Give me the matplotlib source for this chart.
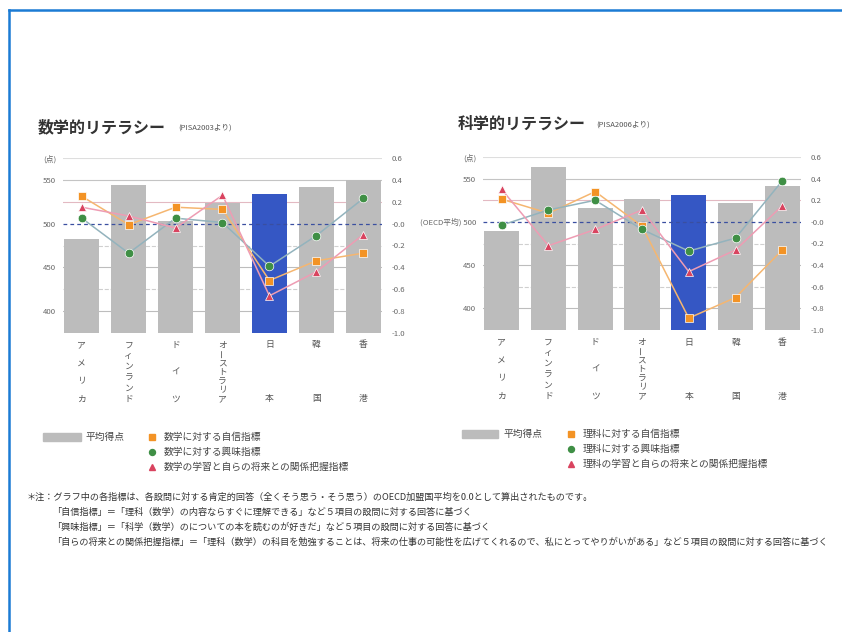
import matplotlib
matplotlib.use("Agg")
import matplotlib.pyplot as plt
from matplotlib.lines import Line2D
from matplotlib.patches import Rectangle
import numpy as np

plt.rcParams['font.family'] = ['Noto Sans CJK JP', 'DejaVu Sans']

W, H = 842, 632

countries = ['アメリカ', 'フィンランド', 'ドイツ', 'オーストラリア', '日本', '韓国', '香港']

# PISA2003 mathematics
math_score = [483, 544, 503, 524, 534, 542, 550]
math_confidence = [0.25, -0.01, 0.15, 0.13, -0.52, -0.34, -0.27]
math_interest = [0.05, -0.27, 0.05, 0.01, -0.39, -0.11, 0.23]
math_future = [0.15, 0.07, -0.04, 0.26, -0.66, -0.44, -0.10]

# PISA2006 science
sci_score = [489, 563, 516, 527, 531, 522, 542]
sci_confidence = [0.21, 0.08, 0.28, -0.04, -0.89, -0.70, -0.26]
sci_interest = [-0.03, 0.11, 0.20, -0.07, -0.27, -0.15, 0.38]
sci_future = [0.30, -0.22, -0.07, 0.11, -0.46, -0.26, 0.15]

math_legend = ['数学に対する自信指標', '数学に対する興味指標', '数学の学習と自らの将来との関係把握指標']
sci_legend = ['理科に対する自信指標', '理科に対する興味指標', '理科の学習と自らの将来との関係把握指標']

notes = [
    '＊注：グラフ中の各指標は、各設問に対する肯定的回答（全くそう思う・そう思う）のOECD加盟国平均を0.0として算出されたものです。',
    '「自信指標」＝「理科（数学）の内容ならすぐに理解できる」など５項目の設問に対する回答に基づく',
    '「興味指標」＝「科学（数学）のについての本を読むのが好きだ」など５項目の設問に対する回答に基づく',
    '「自らの将来との関係把握指標」＝「理科（数学）の科目を勉強することは、将来の仕事の可能性を広げてくれるので、私にとってやりがいがある」など５項目の設問に対する回答に基づく',
]

BAR_GRAY = '#bcbcbc'
JAPAN_BLUE = '#3557c4'
ORANGE = '#f39325'
GREEN = '#3f8f45'
RED = '#d9435f'
series_style = [
    (ORANGE, '#f5b670', 's'),
    (GREEN, '#93b3bd', 'o'),
    (RED, '#ee9cb3', '^'),
]


def px(x, y):
    return x / W, 1 - y / H


def draw_panel(fig, box, scores, indices, show_oecd):
    x0, y0, x1, y1 = box
    l, b = px(x0, y1)
    ax = fig.add_axes([l, b, (x1 - x0) / W, (y1 - y0) / H])
    xs = np.arange(len(countries))

    # horizontal guide lines, one every 0.2 of the index scale
    grid_cols = ['#bdbdbd', '#cfcfcf', '#bdbdbd', '#d0d0d0', None, '#e3b9c2', '#c4c4c4', '#dedede']
    for k, gy in enumerate(np.arange(400, 576, 25)):
        c = grid_cols[k]
        if c is None:
            continue
        ls = '--' if k in (1, 3) else '-'
        ax.axhline(gy, color=c, lw=0.8, ls=ls, zorder=0)

    colors = [JAPAN_BLUE if c == '日本' else BAR_GRAY for c in countries]
    ax.bar(xs, np.array(scores) - 375, bottom=375, width=0.75, color=colors, zorder=2)
    ax.set_xlim(-0.4, 6.4)
    ax.set_ylim(375, 575)
    left_labels = ['400', '450', '(OECD平均) 500' if show_oecd else '500', '550', '(点)']
    ax.set_yticks([400, 450, 500, 550, 575], labels=left_labels)
    ax.set_xticks([])
    ax.tick_params(axis='y', length=0, labelsize=5.6, labelcolor='#666666', pad=5)
    for s in ax.spines.values():
        s.set_visible(False)

    ax2 = ax.twinx()
    ax2.set_ylim(-1.0, 0.6)
    ticks = np.round(np.arange(-1.0, 0.61, 0.2), 1)
    ax2.set_yticks(ticks, labels=[f'{t:.1f}' for t in ticks])
    ax2.tick_params(axis='y', length=0, labelsize=5.6, labelcolor='#666666', pad=7)
    for s in ax2.spines.values():
        s.set_visible(False)
    ax2.axhline(0.0, color='#3a4fa0', lw=0.9, ls=(0, (3, 2.5)), zorder=1)

    for vals, (mc, lc, mk) in zip(indices, series_style):
        ax2.plot(xs, vals, color=lc, lw=1.1, zorder=3)
        ax2.plot(xs, vals, ls='none', marker=mk, ms=6.2, mfc=mc, mec='white',
                 mew=0.5, zorder=4)

    # country names written vertically under each bar
    for i, name in enumerate(countries):
        n = len(name)
        offs = np.linspace(12, 66, n) if n > 1 else [12]
        for ch, o in zip(name, offs):
            rot = 90 if ch == 'ー' else 0
            ax.annotate(ch, xy=(xs[i], 0), xycoords=('data', 'axes fraction'),
                        xytext=(0, -o * 0.72), textcoords='offset points',
                        ha='center', va='center', fontsize=6.3, color='#555555',
                        rotation=rot)
    return ax


def draw_legend(fig, rect_x, text_x, mark_x, row_y, labels):
    l, b = px(rect_x[0], row_y[0] + 4)
    fig.add_artist(Rectangle((l, b), (rect_x[1] - rect_x[0]) / W, 8 / H,
                             transform=fig.transFigure, color=BAR_GRAY))
    fig.text(*px(text_x[0], row_y[0]), '平均得点', fontsize=7, color='#444444',
             va='center', ha='left')
    for y, lab, (mc, lc, mk) in zip(row_y, labels, series_style):
        fig.add_artist(Line2D([mark_x / W], [1 - y / H], marker=mk, ms=4.3, mfc=mc,
                              mec=mc, ls='none', transform=fig.transFigure))
        fig.text(*px(text_x[1], y), lab, fontsize=7, color='#444444',
                 va='center', ha='left')


fig = plt.figure(figsize=(W / 100, H / 100), dpi=100)
fig.patch.set_facecolor('white')

# frame around the page
fig.add_artist(Line2D([9 / W, 1], [1 - 10 / H] * 2, color='#1b7bd4', lw=1.8,
                      transform=fig.transFigure))
fig.add_artist(Line2D([9 / W] * 2, [0, 1 - 10 / H], color='#1b7bd4', lw=1.8,
                      transform=fig.transFigure))

draw_panel(fig, (63, 158, 382, 333), math_score,
           [math_confidence, math_interest, math_future], False)
draw_panel(fig, (483, 157, 801, 330), sci_score,
           [sci_confidence, sci_interest, sci_future], True)

fig.text(*px(38, 127), '数学的リテラシー', fontsize=11.5, fontweight='bold',
         color='#333333', va='center', ha='left')
fig.text(*px(178, 128), '(PISA2003より)', fontsize=5.5, color='#555555',
         va='center', ha='left')
fig.text(*px(458, 124), '科学的リテラシー', fontsize=11.5, fontweight='bold',
         color='#333333', va='center', ha='left')
fig.text(*px(596, 125), '(PISA2006より)', fontsize=5.5, color='#555555',
         va='center', ha='left')

draw_legend(fig, (43, 81), (86, 164), 152, [437, 452, 467], math_legend)
draw_legend(fig, (462, 498), (503, 583), 571, [434, 449, 464], sci_legend)

for k, line in enumerate(notes):
    x = 27 if k == 0 else 52
    fig.text(*px(x, 497 + 15 * k), line, fontsize=6.6, color='#333333',
             va='center', ha='left')

fig.savefig('out.png', dpi=100)
